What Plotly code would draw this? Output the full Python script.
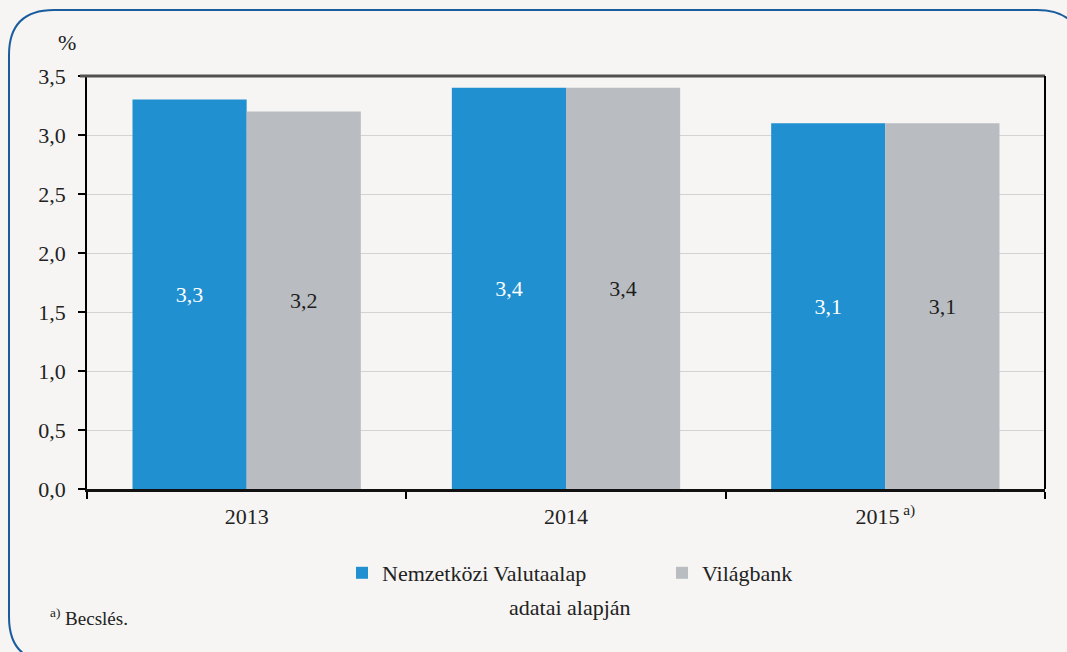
import plotly.graph_objects as go

years = ["2013", "2014", "2015"]
year_labels = ["2013", "2014", "2015<sup> a)</sup>"]
imf = [3.3, 3.4, 3.1]
worldbank = [3.2, 3.4, 3.1]
series_names = ["Nemzetközi Valutaalap", "Világbank"]
y_ticks = [0.0, 0.5, 1.0, 1.5, 2.0, 2.5, 3.0, 3.5]

W, H = 1067, 652
L, R, T, B = 87, 22, 76, 163
PW, PH = W - L - R, H - T - B

def px(x):
    return (x - L) / PW

def py(y):
    return (H - B - y) / PH

FONT = "Liberation Serif, Times New Roman, serif"
FS = 22
BG = "#f6f5f3"

fig = go.Figure()
fig.add_trace(go.Bar(
    x=years, y=imf, name=series_names[0], marker=dict(color="#2190d0", line=dict(width=0)),
    texttemplate="%{y:.1f}", textposition="inside", insidetextanchor="middle",
    insidetextfont=dict(color="#ffffff", size=FS, family=FONT), textangle=0,
))
fig.add_trace(go.Bar(
    x=years, y=worldbank, name=series_names[1], marker=dict(color="#b9bdc1", line=dict(width=0)),
    texttemplate="%{y:.1f}", textposition="inside", insidetextanchor="middle",
    insidetextfont=dict(color="#1e1e1e", size=FS, family=FONT), textangle=0,
))

# rounded frame
x0, y0, x1, y1, r = px(9), py(10), px(1082), py(662), 45
rx, ry = r / PW, r / PH
path = (f"M {x0+rx} {y0} L {x1-rx} {y0} Q {x1} {y0} {x1} {y0-ry} "
        f"L {x1} {y1+ry} Q {x1} {y1} {x1-rx} {y1} "
        f"L {x0+rx} {y1} Q {x0} {y1} {x0} {y1+ry} "
        f"L {x0} {y0-ry} Q {x0} {y0} {x0+rx} {y0} Z")

fig.update_layout(
    width=W, height=H,
    margin=dict(l=L, r=R, t=T, b=B, autoexpand=False),
    paper_bgcolor=BG, plot_bgcolor=BG,
    separators=", ",
    font=dict(family=FONT, size=FS, color="#222222"),
    barmode="group", bargap=0.285, bargroupgap=0,
    showlegend=True,
    legend=dict(orientation="h", x=px(662), xanchor="center", y=py(573), yanchor="middle",
                bgcolor="rgba(0,0,0,0)", font=dict(size=FS, family=FONT),
                entrywidth=275, itemwidth=30, traceorder="normal"),
    xaxis=dict(
        type="category", tickvals=years, ticktext=year_labels, tickson="boundaries",
        ticks="outside", ticklen=7, tickcolor="#000", tickwidth=1.5, ticklabelstandoff=6,
        showline=True, linecolor="#111", linewidth=2.5, mirror=False,
        showgrid=False, tickfont=dict(size=FS, family=FONT),
    ),
    yaxis=dict(
        range=[0, 3.5], tickvals=y_ticks, tickformat=".1f",
        ticks="outside", ticklen=7, tickcolor="#000", tickwidth=1.5, ticklabelstandoff=8,
        showline=True, linecolor="#000", linewidth=1.5, mirror=False,
        showgrid=True, gridcolor="#d3d3d3", gridwidth=1, zeroline=False,
        tickfont=dict(size=FS, family=FONT),
    ),
    shapes=[
        dict(type="path", path=path, xref="paper", yref="paper",
             line=dict(color="#1a5d9e", width=2), fillcolor="rgba(0,0,0,0)", layer="below"),
        dict(type="line", xref="paper", yref="paper", x0=px(80), x1=1, y0=1, y1=1,
             line=dict(color="#505050", width=3)),
        dict(type="line", xref="paper", yref="paper", x0=1, x1=1, y0=0, y1=1,
             line=dict(color="#000", width=2)),
    ],
    annotations=[
        dict(text="%", xref="paper", yref="paper", x=px(67), y=py(42), showarrow=False,
             xanchor="center", yanchor="middle", font=dict(size=FS, family=FONT)),
        dict(text="adatai alapján", xref="paper", yref="paper", x=px(570), y=py(607),
             xanchor="center", yanchor="middle", showarrow=False, font=dict(size=FS, family=FONT)),
        dict(text="<sup>a)</sup> Becslés.", xref="paper", yref="paper", x=px(48), y=py(617),
             xanchor="left", yanchor="middle", showarrow=False, font=dict(size=19, family=FONT)),
    ],
)

fig.write_html("out.html", config={"displayModeBar": False},
               post_script="document.body.style.margin='0';document.body.style.background='%s';" % BG)
